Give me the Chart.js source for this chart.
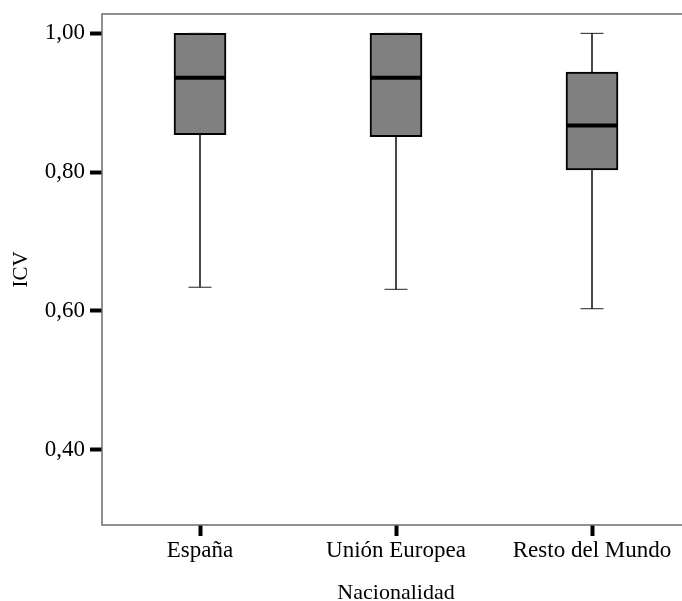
<!DOCTYPE html>
<html>
<head>
<meta charset="utf-8">
<title>ICV por Nacionalidad</title>
<style>
html, body { margin: 0; padding: 0; background: #fff; overflow: hidden; }
canvas { display: block; }
</style>
</head>
<body>
<canvas id="chart" width="700" height="601"></canvas>
<script src="https://cdn.jsdelivr.net/npm/chart.js"></script>
<script>
  // valores
  const categories = ['España', 'Unión Europea', 'Resto del Mundo'];
  const whiskerLow = [0.634, 0.631, 0.603];
  const q1 = [0.854, 0.851, 0.803];
  const median = [0.936, 0.936, 0.867];
  const q3 = [1.00, 1.00, 0.944];
  const whiskerHigh = [1.00, 1.00, 1.00];
  const yTicks = [0.40, 0.60, 0.80, 1.00];

  const serif = 'Liberation Serif';

  const xs = categories.map((c, i) => i + 1);
  const boxData = xs.map((x, i) => ({ x: x, y: [q1[i], q3[i]] }));
  const whiskerData = xs.map((x, i) => ({ x: x, y: [whiskerLow[i], whiskerHigh[i]] }));
  const medianData = xs.map((x, i) => ({ x: x, y: median[i] }));
  const capData = xs.map((x, i) => ({ x: x, y: whiskerLow[i] }))
    .concat(xs.map((x, i) => ({ x: x, y: whiskerHigh[i] })));

  // marco del area de trazado
  const frame = {
    id: 'frame',
    beforeDatasetsDraw(chart) {
      const a = chart.chartArea, c = chart.ctx;
      c.save();
      c.strokeStyle = '#6b6b6b';
      c.lineWidth = 1.5;
      c.strokeRect(a.left, a.top, a.right - a.left, a.bottom - a.top);
      c.restore();
    }
  };

  const ctx = document.getElementById('chart');

  let chart = new Chart(ctx, {
    type: 'bar',
    data: {
      datasets: [{
        label: 'bigotes',
        data: whiskerData,
        backgroundColor: '#222',
        borderWidth: 0,
        barThickness: 1,
        grouped: false,
        order: 3
      },
      {
        label: 'caja',
        data: boxData,
        backgroundColor: '#808080',
        borderColor: '#000',
        borderWidth: 2,
        borderSkipped: false,
        barThickness: 52,
        grouped: false,
        order: 2
      },
      {
        type: 'line',
        label: 'mediana',
        data: medianData,
        showLine: false,
        pointStyle: 'line',
        pointRadius: 25,
        pointBorderWidth: 4,
        pointBorderColor: '#000',
        order: 1
      },
      {
        type: 'line',
        label: 'extremos',
        data: capData,
        showLine: false,
        pointStyle: 'line',
        pointRadius: 11.5,
        pointBorderWidth: 1,
        pointBorderColor: '#222',
        order: 1
      }]
    },
    options: {
      responsive: false,
      animation: false,
      layout: { autoPadding: false, padding: { top: 14, right: 10, left: 0, bottom: 0 } },
      plugins: {
        legend: { display: false },
        tooltip: { enabled: false }
      },
      scales: {
        x: {
          type: 'linear',
          min: 0.5,
          max: 3.5,
          offset: false,
          afterBuildTicks: s => { s.ticks = xs.map(v => ({ value: v })); },
          afterFit: s => { s.height = 76; s.paddingLeft = 0; s.paddingRight = 0; },
          border: { display: false },
          grid: { display: true, offset: false, drawOnChartArea: false, tickLength: 11, tickWidth: 4, tickColor: '#000' },
          ticks: {
            color: '#000',
            padding: 1,
            maxRotation: 0,
            autoSkip: false,
            font: { family: serif, size: 23 },
            callback: v => categories[v - 1]
          },
          title: {
            display: true,
            text: 'Nacionalidad',
            color: '#000',
            padding: { top: 0, bottom: 1 },
            font: { family: serif, size: 22, lineHeight: 0.6 }
          }
        },
        y: {
          min: 0.2912,
          max: 1.0279,
          beginAtZero: false,
          afterBuildTicks: s => { s.ticks = yTicks.map(v => ({ value: v })); },
          afterFit: s => { s.width = 102; s.paddingTop = 0; s.paddingBottom = 0; },
          border: { display: false },
          grid: { display: true, drawOnChartArea: false, tickLength: 12, tickWidth: 4, tickColor: '#000' },
          ticks: {
            color: '#000',
            padding: 5,
            font: { family: serif, size: 23 },
            callback: v => v.toFixed(2).replace('.', ',')
          },
          title: {
            display: true,
            text: 'ICV',
            color: '#000',
            padding: { top: 9, bottom: 0 },
            font: { family: serif, size: 21 }
          }
        }
      }
    },
    plugins: [frame]
  });
</script>
</body>
</html>
